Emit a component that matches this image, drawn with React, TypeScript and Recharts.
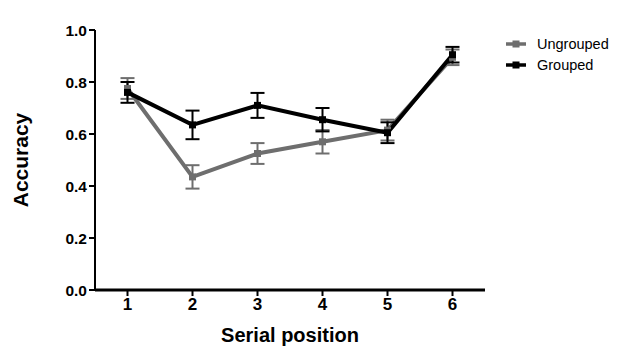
import React from 'react';
import { LineChart, Line, XAxis, YAxis, ErrorBar } from 'recharts';

const positions = ['1', '2', '3', '4', '5', '6'];
const ungrouped = [0.775, 0.435, 0.525, 0.57, 0.615, 0.895];
const ungroupedErr = [0.04, 0.045, 0.04, 0.045, 0.04, 0.03];
const grouped = [0.76, 0.635, 0.71, 0.655, 0.605, 0.905];
const groupedErr = [0.04, 0.055, 0.048, 0.045, 0.04, 0.03];
const yTicks = [0, 0.2, 0.4, 0.6, 0.8, 1.0];
const seriesNames = ['Ungrouped', 'Grouped'];

const data = positions.map((p, i) => ({
  pos: p,
  ungrouped: ungrouped[i],
  uErr: ungroupedErr[i],
  grouped: grouped[i],
  gErr: groupedErr[i],
}));

const GRAY = '#6e6e6e';
const BLACK = '#000000';
const FONT = '"Liberation Sans", Arial, sans-serif';

const SquareDot = (color: string) => (props: any) => {
  const { cx, cy } = props;
  if (cx == null || cy == null) return null;
  return <rect x={cx - 3.5} y={cy - 3.5} width={7} height={7} fill={color} />;
};

const LegendBox = () => {
  const colors = [GRAY, BLACK];
  return (
    <div
      style={{
        position: 'absolute',
        left: 506,
        top: 33,
        fontFamily: FONT,
        fontSize: 14.5,
        color: '#000',
      }}
    >
      {seriesNames.map((name, i) => (
        <div key={name} style={{ display: 'flex', alignItems: 'center', height: 21 }}>
          <svg width={20} height={10} style={{ marginRight: 11 }}>
            <line x1={0} y1={5} x2={20} y2={5} stroke={colors[i]} strokeWidth={3.5} />
            <rect x={6.5} y={1.5} width={7} height={7} fill={colors[i]} />
          </svg>
          <span>{name}</span>
        </div>
      ))}
    </div>
  );
};

export default function App() {
  return (
    <div style={{ position: 'absolute', left: 0, top: 0, width: 630, height: 358, background: '#fff' }}>
      <LineChart
        width={630}
        height={358}
        data={data}
        margin={{ top: 30, right: 145, bottom: 0, left: 0 }}
      >
        <XAxis
          dataKey="pos"
          padding={{ left: 32.5, right: 32.5 }}
          axisLine={{ stroke: '#000', strokeWidth: 3 }}
          tickLine={{ stroke: '#000', strokeWidth: 2 }}
          tickSize={6}
          height={68}
          tick={{ fill: '#000', fontSize: 17, fontWeight: 'bold', fontFamily: FONT }}
          label={{
            value: 'Serial position',
            position: 'insideBottom',
            offset: 16,
            style: { fill: '#000', fontSize: 20, fontWeight: 'bold', fontFamily: FONT },
          }}
        />
        <YAxis
          domain={[0, 1]}
          ticks={yTicks}
          interval={0}
          width={95}
          tickFormatter={(v: number) => v.toFixed(1)}
          axisLine={{ stroke: '#000', strokeWidth: 2 }}
          tickLine={{ stroke: '#000', strokeWidth: 2 }}
          tickSize={6}
          tick={{ fill: '#000', fontSize: 15.5, fontWeight: 'bold', fontFamily: FONT }}
          label={({ viewBox }: any) => {
            const x = viewBox.x + 20;
            const y = viewBox.y + viewBox.height / 2;
            return (
              <text
                x={x}
                y={y}
                transform={`rotate(-90, ${x}, ${y})`}
                textAnchor="middle"
                dominantBaseline="central"
                style={{ fill: '#000', fontSize: 21, fontWeight: 'bold', fontFamily: FONT }}
              >
                Accuracy
              </text>
            );
          }}
        />
        <Line
          dataKey="ungrouped"
          name={seriesNames[0]}
          stroke={GRAY}
          strokeWidth={4}
          dot={SquareDot(GRAY)}
          isAnimationActive={false}
        >
          <ErrorBar dataKey="uErr" width={7} strokeWidth={2} stroke={GRAY} direction="y" />
        </Line>
        <Line
          dataKey="grouped"
          name={seriesNames[1]}
          stroke={BLACK}
          strokeWidth={4}
          dot={SquareDot(BLACK)}
          isAnimationActive={false}
        >
          <ErrorBar dataKey="gErr" width={7} strokeWidth={2} stroke={BLACK} direction="y" />
        </Line>
      </LineChart>
      <LegendBox />
    </div>
  );
}
